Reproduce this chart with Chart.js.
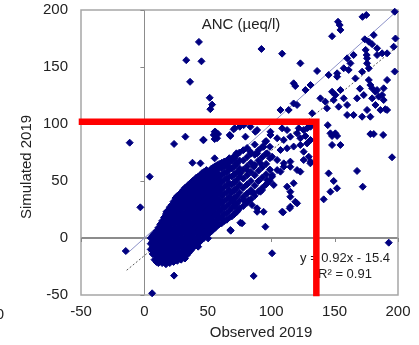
<!DOCTYPE html>
<html>
<head>
<meta charset="utf-8">
<script src="https://cdn.jsdelivr.net/npm/chart.js@4"></script>
<style>
  html, body { margin: 0; padding: 0; background: #fff; }
</style>
</head>
<body>
<canvas id="anc" width="419" height="345"></canvas>
<script>
// ticks
const xTicks = [-50, 0, 50, 100, 150, 200];
const yTicks = [-50, 0, 50, 100, 150, 200];

// dense cloud, read column by column (observed -> simulated values)
const colObs = [5, 6.5, 8, 9.5, 11, 12.5, 14, 15.5, 17, 18.5, 20, 21.5, 23, 24.5, 26, 27.5,
  29, 30.5, 32, 33.5, 35, 36.5, 38, 39.5, 41, 42.5, 44, 45.5, 47, 48.5, 50, 51.5, 53, 54.5,
  56, 57.5, 59, 61, 63, 65, 67, 69, 71, 73, 75, 78, 81, 84, 87, 90, 93, 96, 99];
const colSim = [
  [-10, -5, 0],
  [-14, -8, -3, 2],
  [-19, -13, -7, -2, 4],
  [-21, -16, -10, -5, 1, 6],
  [-22, -17, -12, -7, -1, 4, 9],
  [-20, -14, -9, -3, 2, 7, 12],
  [-22, -16, -11, -5, 0, 5, 10, 15],
  [-19, -14, -8, -3, 3, 8, 13, 18],
  [-23, -17, -11, -6, 0, 5, 10, 16, 21],
  [-20, -14, -9, -3, 2, 8, 13, 19, 24],
  [-22, -17, -11, -6, 0, 5, 11, 16, 22, 27],
  [-19, -14, -8, -3, 3, 8, 14, 19, 24, 29],
  [-21, -16, -10, -5, 1, 6, 12, 17, 23, 28, 32],
  [-18, -13, -7, -2, 4, 9, 15, 20, 26, 31, 35],
  [-20, -15, -9, -4, 2, 7, 13, 18, 24, 29, 34, 37],
  [-17, -12, -6, -1, 5, 10, 16, 21, 27, 32, 38],
  [-19, -14, -8, -3, 3, 8, 14, 19, 25, 30, 35, 40],
  [-16, -11, -5, 0, 6, 11, 17, 22, 28, 33, 38, 42],
  [-18, -13, -7, -2, 4, 9, 15, 20, 26, 31, 36, 41, 44],
  [-15, -10, -4, 1, 7, 12, 18, 23, 29, 34, 39, 45],
  [-13, -8, -2, 3, 9, 14, 20, 25, 31, 36, 42, 47],
  [-11, -5, 0, 6, 11, 17, 22, 28, 33, 39, 44, 48],
  [-9, -4, 2, 7, 13, 18, 24, 29, 35, 40, 46, 50],
  [-7, -2, 4, 9, 15, 20, 26, 31, 37, 42, 47, 51],
  [-6, 0, 5, 11, 16, 22, 27, 33, 38, 44, 49, 53],
  [-4, 1, 7, 12, 18, 23, 29, 34, 40, 45, 51, 54],
  [-3, 3, 8, 14, 19, 25, 30, 36, 41, 47, 52, 55],
  [-1, 4, 10, 15, 21, 26, 32, 37, 43, 48, 53, 57],
  [0, 6, 11, 17, 22, 28, 33, 39, 44, 50, 55, 58],
  [2, 7, 13, 18, 24, 29, 35, 40, 46, 51, 56],
  [3, 9, 14, 20, 25, 31, 36, 42, 47, 53, 58],
  [5, 10, 16, 21, 27, 32, 38, 43, 49, 54, 59],
  [6, 12, 17, 23, 28, 34, 39, 45, 50, 56, 61],
  [8, 13, 19, 24, 30, 35, 41, 46, 52, 57, 62],
  [9, 15, 20, 26, 31, 37, 42, 48, 53, 59, 63],
  [11, 16, 22, 27, 33, 38, 44, 49, 55, 60, 64],
  [12, 18, 23, 29, 34, 40, 45, 51, 56, 62, 65],
  [13, 19, 25, 31, 37, 43, 49, 55, 61, 66],
  [15, 21, 27, 33, 39, 45, 51, 57, 63, 67],
  [16, 22, 28, 34, 40, 46, 52, 58, 64, 68],
  [18, 24, 30, 36, 42, 48, 54, 60, 66, 70],
  [19, 26, 33, 40, 47, 54, 61, 68],
  [21, 28, 35, 42, 49, 56, 63, 70],
  [23, 30, 37, 44, 51, 58, 65, 73],
  [26, 33, 40, 47, 54, 61, 68, 75],
  [28, 36, 44, 52, 60, 68, 77],
  [31, 39, 47, 55, 63, 71, 79],
  [34, 42, 50, 58, 66, 74],
  [37, 46, 55, 64, 73, 82],
  [41, 50, 59, 68, 77],
  [44, 53, 62, 71, 80],
  [47, 56, 65, 74, 85],
  [50, 60, 70, 80]
];

// scattered points outside the dense cloud
const looseObs = [
  43, 33, 45, 36, 51.5, 53.4, 52, 197.4, 175, 172,
  152.7, 154, 154.6, 148, 92.3, 108.6, 198, 180.9, 173.8, 177,
  179.6, 183.5, 174.5, 175.3, 175.6, 191.4, 187.5, 183.5, 197.4, 196.6,
  123, 136.2, 145.3, 152, 152, 159.9, 165, 162.5, 157.2, 161.1,
  171.7, 177, 175.6, 166.4, 177, 178.2, 179.6, 183.5, 182.2, 188.7,
  191.4, 187.5, 188.7, 190, 117.7, 119, 127, 131, 117.7, 113.8,
  107.3, 132.3, 138.8, 142.7, 144, 148, 150.6, 149.3, 153.2, 154.6,
  157.2, 159.9, 167.7, 173, 179.6, 182.2, 175.6, 186.1, 191.4, 159.9,
  165, 171.7, 178.2, 170, 184.8, 120.4, 144.6, 146.7, 150.6, 152,
  148, 148, 154.6, 178.2, 180.9, 188.3, 195.3, 167.7, 145.3, 149.3,
  151.9, 146.7, 172.2, 141.4, 83.6, 88.9, 99.4, 99.4, 108.6, 112.5,
  121.7, 125.6, 129.6, 127, 131, 125.6, 129.6, 131, 123, 115.1,
  109.9, 104.7, 100.7, 96.8, 91.5, 86.2, 81, 115.1, 119, 115.1,
  102, 100.7, 107.3, 83.6, 78.3, 70.4, 88.9, 94, 109.4, 114.6,
  120.4, 95.4, 75.7, 67.8, 100.7, 86.2, 192.7, 108.6, 77, -11.6,
  23.4, 32.3, 46.3, 55.4, 55.4, 58.1, 67.3, 71.2, 75.2, 37.9,
  44.2, 55.4, 4.2, -3.2, 41, 42.4, 48.9, 50.2, 63.3, 66,
  72.6, 37.1, 27.8, 25.2, -14.7, 23.4, 6.1, 68.1, 42.4, 31.8,
  29.2, 26.6, 13.4, 16, 17.4, 6.9, 73.9, 60.7, 50.2, 47.6,
  56, 54.7, 57.3, 46.8, 70.4, 67.8, 78.3, 79.7, 87.5, 95.4,
  94, 104.7, 109.9, 115.1, 120.4, 123, 128.3, 107.3, 112.5, 117.7,
  123, 128.3, 96.8, 100.7, 104.7, 109.9, 115.1, 120.4, 125.6, 130.9,
  91.5, 86.2, 81, 75.7, 70.4, 72.6, 83.6, 88.9, 112.5, 115.1,
  117.7, 96.8, 92.8, 82.3, 84.9, 88.9, 131, 134.9
];
const looseSim = [
  172, 156, 155, 137, 123, 117, 113, 198.5, 195.6, 194,
  189.7, 186.8, 182.5, 177, 165.8, 161.7, 175, 178, 174.3, 172.2,
  170, 166.4, 165, 160.5, 157.6, 162, 162, 160.5, 146, 167.8,
  153.2, 146.5, 143, 144.5, 141.5, 157.6, 160.5, 153.2, 148.9, 147.4,
  145.9, 148.9, 153.2, 140, 138.6, 134.2, 131.3, 129.8, 128.3, 131.3,
  138.6, 125.4, 121, 113, 135.7, 133.3, 129.8, 134.2, 118, 112.3,
  112.3, 109.4, 122.5, 119.6, 113.8, 128.3, 125.4, 121, 115.2, 129.8,
  122.5, 116.7, 122.5, 125.4, 122.5, 116.7, 112.3, 112.3, 112.3, 107.9,
  107.9, 106.4, 106.4, 131, 124, 116.7, 99, 91.8, 91.8, 89.5,
  89.5, 81.6, 81.6, 91.2, 91.2, 90.4, 70.8, 58.8, 56.7, 50,
  43.6, 40.6, 45, 33.9, 97.6, 94.7, 93.2, 90.4, 96.2, 94.7,
  96.2, 94.7, 97.6, 89.5, 86, 75.7, 71.3, 67, 58.2, 67,
  62.5, 59.6, 55.3, 48, 40.6, 39.2, 31.8, 36.2, 31.8, 27.5,
  46.5, 53.8, 58.2, 40.6, 33.3, 31.8, 23, 23, 22.5, 26,
  30.4, 9.9, 13.4, 7, -13.4, -33.3, -4.1, 23, 12.9, 83.6,
  82.5, 88.9, 86, 86.8, 93.2, 91.2, 90.4, 96.2, 97.6, 66,
  65.5, 69.9, 53.8, 26.9, 50.9, 48, 59.6, 56.7, 67, 62.5,
  74.3, 40.6, 34.8, 28.9, -11.4, -33, -48.5, 6.4, -7.6, -14.9,
  -16.4, -14.9, -13.4, 15.8, 23, 2.6, 24.6, 17.3, -0.3, 5.5,
  93.2, 90.4, 87.5, 86, 95.3, 89.5, 99, 88.9, 93.2, 84.5,
  80, 87.5, 86, 88.9, 91.8, 87.5, 96.2, 77.2, 78.7, 80.2,
  81.6, 83, 74.3, 71.3, 68.4, 65.5, 62.5, 59.6, 68.4, 65.5,
  65.5, 62.5, 59.6, 56.7, 71.3, 65.5, 75.7, 74.3, 45, 40.6,
  48, 50.9, 42.1, 33.3, 28.9, 26, 97.6, 99.1
];

// 1:1 line and fitted trend (y = 0.92x - 15.4)
const oneObs = [-14, 200];
const oneSim = [-14, 200];
const fitObs = [-14, 200];
const fitSim = [-28.3, 168.6];

// red marker lines
const redObs = [-51.8, 135.6, 135.6];
const redSim = [102, 102, -51];

const toPts = (xs, ys) => xs.map((x, i) => ({ x: x, y: ys[i] }));

const points = [];
colObs.forEach((x, i) => colSim[i].forEach(y => points.push({ x: x, y: y })));
toPts(looseObs, looseSim).forEach(p => points.push(p));

const FONT = "'Liberation Sans', Arial, sans-serif";
const zeroOnly = c => (c.tick && c.tick.value === 0 ? '#8c8c8c' : 'rgba(0,0,0,0)');

const extras = {
  id: 'extras',
  beforeDatasetsDraw(chart) {
    const { ctx, chartArea: a, scales: { x, y } } = chart;
    ctx.save();
    ctx.strokeStyle = '#a6a6a6';
    ctx.lineWidth = 1.5;
    ctx.strokeRect(a.left, a.top, a.right - a.left, a.bottom - a.top);

    const x0 = x.getPixelForValue(0);
    const y0 = y.getPixelForValue(0);
    ctx.strokeStyle = '#888';
    ctx.lineWidth = 1;
    ctx.beginPath();
    yTicks.forEach(v => {
      if (v === 0) return;
      const py = Math.round(y.getPixelForValue(v)) + 0.5;
      ctx.moveTo(x0 - 4, py); ctx.lineTo(x0, py);
    });
    xTicks.forEach(v => {
      if (v === 0) return;
      const px = Math.round(x.getPixelForValue(v)) + 0.5;
      ctx.moveTo(px, y0); ctx.lineTo(px, y0 + 4);
    });
    ctx.stroke();

    ctx.fillStyle = '#222';
    ctx.textBaseline = 'middle';
    ctx.textAlign = 'center';
    ctx.font = '15px ' + FONT;
    ctx.fillText('ANC (µeq/l)', 241, 25);
    ctx.font = '13px ' + FONT;
    ctx.fillText('y = 0.92x - 15.4', 345, 258);
    ctx.fillText('R² = 0.91', 345, 274);

    ctx.font = '15px ' + FONT;
    ctx.fillText('Observed 2019', 261, 333);
    ctx.save();
    ctx.translate(27, 167);
    ctx.rotate(-Math.PI / 2);
    ctx.fillText('Simulated 2019', 0, 0);
    ctx.restore();
    ctx.textAlign = 'right';
    ctx.fillText('0', 4, 315);
    ctx.restore();
  }
};

new Chart(document.getElementById('anc'), {
  type: 'scatter',
  data: {
    datasets: [
      {
        data: toPts(redObs, redSim),
        showLine: true,
        borderColor: '#ff0000',
        borderWidth: 6.5,
        borderJoinStyle: 'miter',
        borderCapStyle: 'butt',
        pointRadius: 0,
        clip: false,
        order: 0
      },
      {
        data: points,
        pointStyle: 'rectRot',
        pointRadius: 3.5,
        borderWidth: 1,
        backgroundColor: '#000080',
        borderColor: '#000080',
        clip: false,
        order: 1
      },
      {
        data: toPts(oneObs, oneSim),
        showLine: true,
        borderColor: 'rgb(140,145,200)',
        borderWidth: 1,
        pointRadius: 0,
        order: 2
      },
      {
        data: toPts(fitObs, fitSim),
        showLine: true,
        borderColor: '#555',
        borderWidth: 1,
        borderDash: [2, 2],
        pointRadius: 0,
        order: 3
      }
    ]
  },
  options: {
    responsive: false,
    animation: false,
    events: [],
    layout: { padding: { top: 10, right: 21, left: 0, bottom: 0 } },
    plugins: { legend: { display: false }, tooltip: { enabled: false } },
    scales: {
      x: {
        type: 'linear',
        min: -50,
        max: 200,
        afterBuildTicks: s => { s.ticks = xTicks.map(v => ({ value: v })); },
        afterFit: s => { s.height = 50; s.paddingLeft = 0; s.paddingRight = 0; },
        ticks: { padding: 8, color: '#222', font: { family: FONT, size: 15 } },
        grid: { drawTicks: false, color: zeroOnly, lineWidth: 1 },
        border: { display: false }
      },
      y: {
        type: 'linear',
        min: -50,
        max: 200,
        afterBuildTicks: s => { s.ticks = yTicks.map(v => ({ value: v })); },
        afterFit: s => { s.width = 81; s.paddingTop = 0; s.paddingBottom = 0; },
        ticks: { padding: 13, color: '#222', font: { family: FONT, size: 15 } },
        grid: { drawTicks: false, color: zeroOnly, lineWidth: 2 },
        border: { display: false }
      }
    }
  },
  plugins: [extras]
});
</script>
</body>
</html>
